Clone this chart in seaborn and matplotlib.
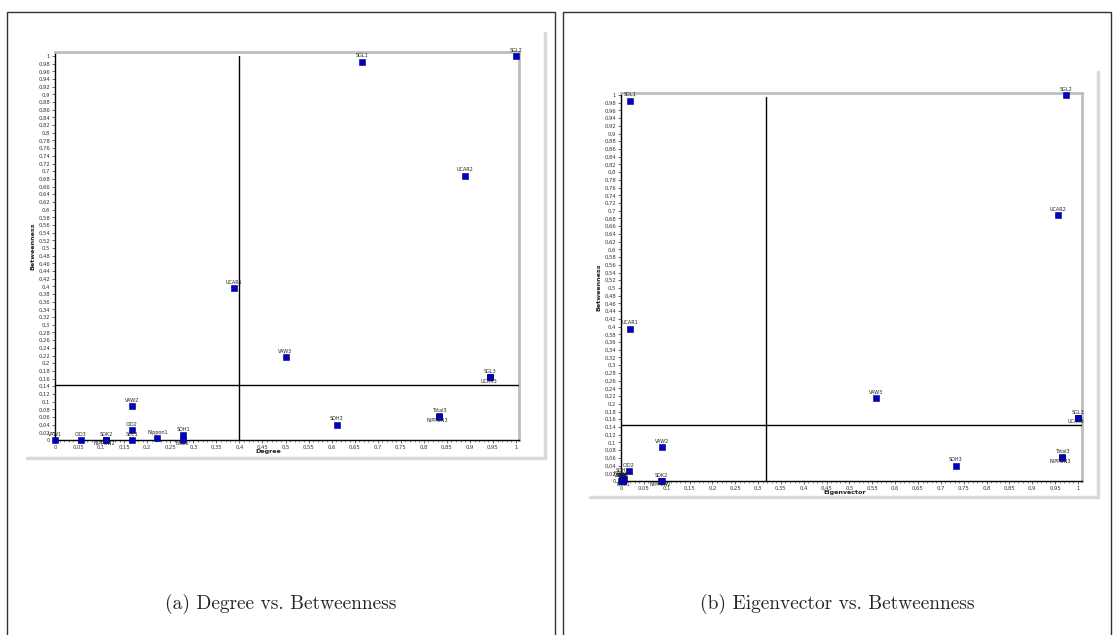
import numpy as np
import pandas as pd
import matplotlib
matplotlib.use("Agg")
import matplotlib.pyplot as plt
from matplotlib.patches import Rectangle
from matplotlib.lines import Line2D
from matplotlib.ticker import MultipleLocator, FuncFormatter
import seaborn as sns

# ---------------- data ----------------
names = ["VAW1", "CID3", "SDK2", "NIPPON2", "SEC1", "CID2", "VAW2", "Nippon1",
         "SDH1", "Total1", "UCAR1", "VAW3", "SDH3", "Total3", "NIPPON3",
         "SGL1", "SGL2", "UCAR2", "SGL3", "UCAR3"]
degree = [0.0, 0.056, 0.111, 0.111, 0.167, 0.167, 0.167, 0.222,
          0.278, 0.278, 0.389, 0.5, 0.611, 0.833, 0.833,
          0.667, 1.0, 0.889, 0.944, 0.944]
eigenvector = [0.0, 0.004, 0.088, 0.09, 0.002, 0.017, 0.09, 0.006,
               0.003, 0.005, 0.02, 0.558, 0.733, 0.965, 0.965,
               0.02, 0.974, 0.956, 1.0, 1.0]
betweenness = [0.0, 0.0, 0.0, 0.0, 0.0, 0.025, 0.088, 0.005,
               0.012, 0.0, 0.395, 0.215, 0.04, 0.062, 0.06,
               0.985, 1.0, 0.688, 0.163, 0.163]
label_below = ["NIPPON2", "Total1", "NIPPON3", "UCAR3"]

deg_threshold = 0.4
eig_threshold = 0.317
bet_threshold_a = 0.143
bet_threshold_b = 0.145

captions = ["(a) Degree vs. Betweenness", "(b) Eigenvector vs. Betweenness"]

df = pd.DataFrame({"name": names, "Degree": degree,
                   "Eigenvector": eigenvector, "Betweenness": betweenness})

# ---------------- style ----------------
sns.set_style("white")
plt.rcParams["font.family"] = ["DejaVu Sans"]

W, H = 1118, 635
fig = plt.figure(figsize=(W / 100, H / 100), dpi=100)
fig.patch.set_facecolor("white")


def px_rect(x0, y0, x1, y1):
    return [x0 / W, 1 - y1 / H, (x1 - x0) / W, (y1 - y0) / H]


# outer panel frames
for (x0, x1) in [(7, 555), (563, 1111)]:
    fig.add_artist(Rectangle((x0 / W, -0.01), (x1 - x0) / W, 1 - 12 / H + 0.01,
                             transform=fig.transFigure, fill=False,
                             edgecolor="#333333", linewidth=1.0))

# chart-image drop shadows
shadow = "#d9d9d9"
for (xl, xr, yt, yb) in [(27, 545, 33, 458), (590, 1098, 72, 497)]:
    fig.add_artist(Line2D([xl / W, xr / W], [1 - yb / H, 1 - yb / H],
                          transform=fig.transFigure, color=shadow, lw=2.5))
    fig.add_artist(Line2D([xr / W, xr / W], [1 - yt / H, 1 - yb / H],
                          transform=fig.transFigure, color=shadow, lw=2.5))

fmt = FuncFormatter(lambda v, p: ("%g" % round(v, 2)).replace(".", ","))


def make_panel(rect, xcol, xlim, ylim, vline, hline, xlabel_pos):
    ax = fig.add_axes(rect)
    sns.scatterplot(data=df, x=xcol, y="Betweenness", ax=ax, marker="s",
                    color="#0000c8", s=18, edgecolor="#000060", linewidth=0.4,
                    zorder=4, clip_on=False, legend=False)
    ax.set_xlim(*xlim)
    ax.set_ylim(*ylim)
    ax.axvline(vline, color="black", lw=1.0, zorder=3, ymax=0.99)
    ax.axhline(hline, color="black", lw=1.0, zorder=3)
    for _, r in df.iterrows():
        if r["name"] in label_below:
            ax.annotate(r["name"], (r[xcol], r["Betweenness"]),
                        xytext=(-1, -2.6), textcoords="offset points",
                        ha="center", va="center", fontsize=3.5,
                        color="#222222", zorder=5, annotation_clip=False)
        else:
            ax.annotate(r["name"], (r[xcol], r["Betweenness"]),
                        xytext=(0, 4.2), textcoords="offset points",
                        ha="center", va="center", fontsize=3.5,
                        color="#222222", zorder=5, annotation_clip=False)
    ax.xaxis.set_major_locator(MultipleLocator(0.05))
    ax.xaxis.set_minor_locator(MultipleLocator(0.01))
    ax.yaxis.set_major_locator(MultipleLocator(0.02))
    ax.xaxis.set_major_formatter(fmt)
    ax.yaxis.set_major_formatter(fmt)
    ax.tick_params(axis="both", which="major", labelsize=3.8, length=2,
                   width=0.5, pad=1.5, colors="#333333", direction="out",
                   bottom=True, left=True)
    ax.tick_params(axis="x", which="minor", length=1.2, width=0.4,
                   bottom=True, colors="#333333")
    for sp in ["left", "bottom"]:
        ax.spines[sp].set_color("black")
        ax.spines[sp].set_linewidth(1.0)
    for sp in ["top", "right"]:
        ax.spines[sp].set_visible(True)
        ax.spines[sp].set_color("#bdbdbd")
        ax.spines[sp].set_linewidth(2.0)
    ax.set_xlabel(xcol, fontsize=4.6, fontweight="bold", labelpad=1.5,
                  color="#222222")
    ax.xaxis.set_label_coords(xlabel_pos, -0.024)
    ax.set_ylabel("Betweenness", fontsize=4.6, fontweight="bold",
                  labelpad=2, color="#222222")
    ax.grid(False)
    return ax


make_panel(px_rect(55, 52, 519, 440), "Degree", (0, 1.0065), (0, 1.0104),
           deg_threshold, bet_threshold_a, 0.46)
make_panel(px_rect(621, 93, 1082, 481), "Eigenvector", (0, 1.009), (0, 1.005),
           eig_threshold, bet_threshold_b, 0.486)

for cx, cap in zip([281, 837], captions):
    fig.text(cx / W, 1 - 604 / H, cap, ha="center", va="center",
             fontsize=14, family=["cmr10", "DejaVu Serif"])

fig.savefig("out.png", dpi=100, facecolor="white")
